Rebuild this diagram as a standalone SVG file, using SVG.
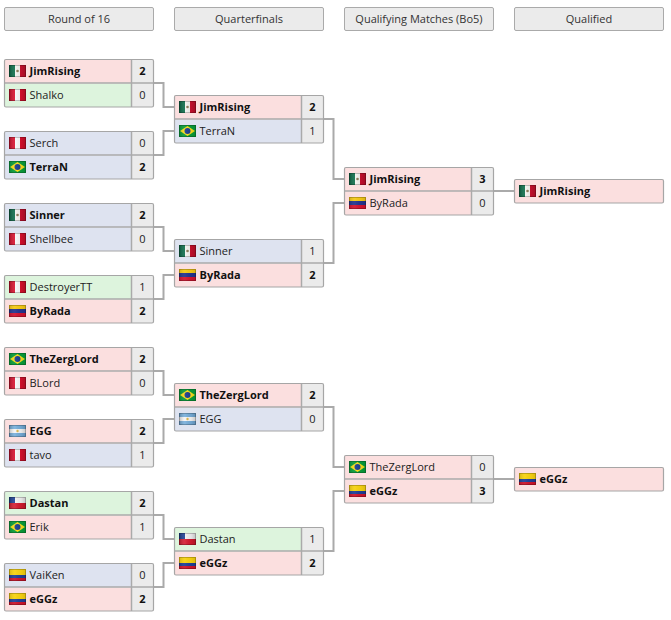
<svg xmlns="http://www.w3.org/2000/svg" width="671" height="620" viewBox="0 0 671 620">
<style>
text{font-family:"Open Sans","Noto Sans","Liberation Sans",sans-serif;font-size:11px;fill:#222}
.b{font-weight:700;fill:#111}
.h{text-anchor:middle;font-size:11px;fill:#333}
.s{text-anchor:middle}
.head{fill:#ebebeb;stroke:#aaa;stroke-width:1}
.p{fill:#fbdfdf}.g{fill:#ddf4dd}.u{fill:#dee3f0}
.c{fill:#ebebeb}
.o{fill:none;stroke:#a6a6a6;stroke-width:1.2}
.d{stroke:#aaa;stroke-width:1.5;fill:none}
.con{fill:none;stroke:#aaa;stroke-width:2}
.e{fill:none;stroke:#000;stroke-opacity:.22;stroke-width:1}
</style>
<defs>
<linearGradient id="sh" x1="0" y1="0" x2="1" y2="0"><stop offset="0" stop-color="#000" stop-opacity=".25"/><stop offset=".35" stop-color="#fff" stop-opacity=".1"/><stop offset=".7" stop-color="#000" stop-opacity=".05"/><stop offset="1" stop-color="#000" stop-opacity=".2"/></linearGradient>
<symbol id="mx" overflow="visible"><rect width="6" height="12" fill="#0a6b48"/><rect x="6" width="5" height="12" fill="#f4f4f0"/><rect x="11" width="6" height="12" fill="#c8102e"/><circle cx="8.5" cy="6" r="1.3" fill="#8a7a55"/><rect width="17" height="12" fill="url(#sh)"/><rect class="e" x=".5" y=".5" width="16" height="11"/></symbol>
<symbol id="pe" overflow="visible"><rect width="6" height="12" fill="#d80f2c"/><rect x="6" width="5" height="12" fill="#fafafa"/><rect x="11" width="6" height="12" fill="#d80f2c"/><rect width="17" height="12" fill="url(#sh)"/><rect class="e" x=".5" y=".5" width="16" height="11"/></symbol>
<symbol id="br" overflow="visible"><rect width="17" height="12" fill="#089c3a"/><path d="M8.5 1 16 6 8.5 11 1 6z" fill="#f7dc1a"/><circle cx="8.5" cy="6" r="3" fill="#1d3f8f"/><rect width="17" height="12" fill="url(#sh)" opacity=".6"/><rect class="e" x=".5" y=".5" width="16" height="11"/></symbol>
<symbol id="ve" overflow="visible"><rect width="17" height="4" fill="#f5c916"/><rect y="4" width="17" height="4" fill="#23348f"/><rect y="8" width="17" height="4" fill="#d3132f"/><rect width="17" height="12" fill="url(#sh)" opacity=".6"/><rect class="e" x=".5" y=".5" width="16" height="11"/></symbol>
<symbol id="co" overflow="visible"><rect width="17" height="6" fill="#f7d210"/><rect y="6" width="17" height="3" fill="#1f3f97"/><rect y="9" width="17" height="3" fill="#cf142b"/><rect width="17" height="12" fill="url(#sh)" opacity=".6"/><rect class="e" x=".5" y=".5" width="16" height="11"/></symbol>
<symbol id="ar" overflow="visible"><rect width="17" height="4" fill="#76aedb"/><rect y="4" width="17" height="4" fill="#f6f6f6"/><rect y="8" width="17" height="4" fill="#76aedb"/><circle cx="8.5" cy="6" r="1.2" fill="#e0b84a"/><rect width="17" height="12" fill="url(#sh)"/><rect class="e" x=".5" y=".5" width="16" height="11"/></symbol>
<symbol id="cl" overflow="visible"><rect width="17" height="6" fill="#f2f2f2"/><rect y="6" width="17" height="6" fill="#d5192e"/><rect width="6" height="6" fill="#1c3f94"/><rect width="17" height="12" fill="url(#sh)"/><rect class="e" x=".5" y=".5" width="16" height="11"/></symbol>
</defs>
<rect width="671" height="620" fill="#fff"/>
<g id="headers">
<g id="h1"><rect class="head" x="4.5" y="7.5" width="149" height="23" rx="1.5"/><text class="h" x="79" y="23">Round of 16</text></g>
<g id="h2"><rect class="head" x="174.5" y="7.5" width="149" height="23" rx="1.5"/><text class="h" x="249" y="23">Quarterfinals</text></g>
<g id="h3"><rect class="head" x="344.5" y="7.5" width="149" height="23" rx="1.5"/><text class="h" x="419" y="23">Qualifying Matches (Bo5)</text></g>
<g id="h4"><rect class="head" x="514.5" y="7.5" width="149" height="23" rx="1.5"/><text class="h" x="589" y="23">Qualified</text></g>
</g>
<g id="connectors">
<path class="con" d="M153 83H163.5V107H174"/>
<path class="con" d="M153 155H163.5V131H174"/>
<path class="con" d="M153 227H163.5V251H174"/>
<path class="con" d="M153 299H163.5V275H174"/>
<path class="con" d="M153 371H163.5V395H174"/>
<path class="con" d="M153 443H163.5V419H174"/>
<path class="con" d="M153 515H163.5V539H174"/>
<path class="con" d="M153 587H163.5V563H174"/>
<path class="con" d="M323 119H333.5V179H344"/>
<path class="con" d="M323 263H333.5V203H344"/>
<path class="con" d="M323 407H333.5V467H344"/>
<path class="con" d="M323 551H333.5V491H344"/>
<path class="con" d="M493 191H514"/>
<path class="con" d="M493 479H514"/>
</g>
<g id="m1" transform="translate(4.5 59.5)"><rect class="p" width="127" height="24"/><rect class="g" y="24" width="127" height="23.5"/><rect class="c" x="127" width="22" height="47.5"/><path class="d" d="M0 23.5H149M127 0V47.5"/><rect class="o" width="149" height="47.5" rx="1.5"/><use href="#mx" x="4.5" y="5.5"/><use href="#pe" x="4.5" y="29.5"/><text class="b" x="25" y="15.5">JimRising</text><text x="25" y="39.5">Shalko</text><text class="s b" x="138" y="15.5">2</text><text class="s" x="138" y="39.5">0</text></g>
<g id="m2" transform="translate(4.5 131.5)"><rect class="u" width="127" height="24"/><rect class="u" y="24" width="127" height="23.5"/><rect class="c" x="127" width="22" height="47.5"/><path class="d" d="M0 23.5H149M127 0V47.5"/><rect class="o" width="149" height="47.5" rx="1.5"/><use href="#pe" x="4.5" y="5.5"/><use href="#br" x="4.5" y="29.5"/><text x="25" y="15.5">Serch</text><text class="b" x="25" y="39.5">TerraN</text><text class="s" x="138" y="15.5">0</text><text class="s b" x="138" y="39.5">2</text></g>
<g id="m3" transform="translate(4.5 203.5)"><rect class="u" width="127" height="24"/><rect class="u" y="24" width="127" height="23.5"/><rect class="c" x="127" width="22" height="47.5"/><path class="d" d="M0 23.5H149M127 0V47.5"/><rect class="o" width="149" height="47.5" rx="1.5"/><use href="#mx" x="4.5" y="5.5"/><use href="#pe" x="4.5" y="29.5"/><text class="b" x="25" y="15.5">Sinner</text><text x="25" y="39.5">Shellbee</text><text class="s b" x="138" y="15.5">2</text><text class="s" x="138" y="39.5">0</text></g>
<g id="m4" transform="translate(4.5 275.5)"><rect class="g" width="127" height="24"/><rect class="p" y="24" width="127" height="23.5"/><rect class="c" x="127" width="22" height="47.5"/><path class="d" d="M0 23.5H149M127 0V47.5"/><rect class="o" width="149" height="47.5" rx="1.5"/><use href="#pe" x="4.5" y="5.5"/><use href="#ve" x="4.5" y="29.5"/><text x="25" y="15.5">DestroyerTT</text><text class="b" x="25" y="39.5">ByRada</text><text class="s" x="138" y="15.5">1</text><text class="s b" x="138" y="39.5">2</text></g>
<g id="m5" transform="translate(4.5 347.5)"><rect class="p" width="127" height="24"/><rect class="p" y="24" width="127" height="23.5"/><rect class="c" x="127" width="22" height="47.5"/><path class="d" d="M0 23.5H149M127 0V47.5"/><rect class="o" width="149" height="47.5" rx="1.5"/><use href="#br" x="4.5" y="5.5"/><use href="#pe" x="4.5" y="29.5"/><text class="b" x="25" y="15.5">TheZergLord</text><text x="25" y="39.5">BLord</text><text class="s b" x="138" y="15.5">2</text><text class="s" x="138" y="39.5">0</text></g>
<g id="m6" transform="translate(4.5 419.5)"><rect class="p" width="127" height="24"/><rect class="u" y="24" width="127" height="23.5"/><rect class="c" x="127" width="22" height="47.5"/><path class="d" d="M0 23.5H149M127 0V47.5"/><rect class="o" width="149" height="47.5" rx="1.5"/><use href="#ar" x="4.5" y="5.5"/><use href="#pe" x="4.5" y="29.5"/><text class="b" x="25" y="15.5">EGG</text><text x="25" y="39.5">tavo</text><text class="s b" x="138" y="15.5">2</text><text class="s" x="138" y="39.5">1</text></g>
<g id="m7" transform="translate(4.5 491.5)"><rect class="g" width="127" height="24"/><rect class="p" y="24" width="127" height="23.5"/><rect class="c" x="127" width="22" height="47.5"/><path class="d" d="M0 23.5H149M127 0V47.5"/><rect class="o" width="149" height="47.5" rx="1.5"/><use href="#cl" x="4.5" y="5.5"/><use href="#br" x="4.5" y="29.5"/><text class="b" x="25" y="15.5">Dastan</text><text x="25" y="39.5">Erik</text><text class="s b" x="138" y="15.5">2</text><text class="s" x="138" y="39.5">1</text></g>
<g id="m8" transform="translate(4.5 563.5)"><rect class="u" width="127" height="24"/><rect class="p" y="24" width="127" height="23.5"/><rect class="c" x="127" width="22" height="47.5"/><path class="d" d="M0 23.5H149M127 0V47.5"/><rect class="o" width="149" height="47.5" rx="1.5"/><use href="#co" x="4.5" y="5.5"/><use href="#co" x="4.5" y="29.5"/><text x="25" y="15.5">VaiKen</text><text class="b" x="25" y="39.5">eGGz</text><text class="s" x="138" y="15.5">0</text><text class="s b" x="138" y="39.5">2</text></g>
<g id="q1" transform="translate(174.5 95.5)"><rect class="p" width="127" height="24"/><rect class="u" y="24" width="127" height="23.5"/><rect class="c" x="127" width="22" height="47.5"/><path class="d" d="M0 23.5H149M127 0V47.5"/><rect class="o" width="149" height="47.5" rx="1.5"/><use href="#mx" x="4.5" y="5.5"/><use href="#br" x="4.5" y="29.5"/><text class="b" x="25" y="15.5">JimRising</text><text x="25" y="39.5">TerraN</text><text class="s b" x="138" y="15.5">2</text><text class="s" x="138" y="39.5">1</text></g>
<g id="q2" transform="translate(174.5 239.5)"><rect class="u" width="127" height="24"/><rect class="p" y="24" width="127" height="23.5"/><rect class="c" x="127" width="22" height="47.5"/><path class="d" d="M0 23.5H149M127 0V47.5"/><rect class="o" width="149" height="47.5" rx="1.5"/><use href="#mx" x="4.5" y="5.5"/><use href="#ve" x="4.5" y="29.5"/><text x="25" y="15.5">Sinner</text><text class="b" x="25" y="39.5">ByRada</text><text class="s" x="138" y="15.5">1</text><text class="s b" x="138" y="39.5">2</text></g>
<g id="q3" transform="translate(174.5 383.5)"><rect class="p" width="127" height="24"/><rect class="u" y="24" width="127" height="23.5"/><rect class="c" x="127" width="22" height="47.5"/><path class="d" d="M0 23.5H149M127 0V47.5"/><rect class="o" width="149" height="47.5" rx="1.5"/><use href="#br" x="4.5" y="5.5"/><use href="#ar" x="4.5" y="29.5"/><text class="b" x="25" y="15.5">TheZergLord</text><text x="25" y="39.5">EGG</text><text class="s b" x="138" y="15.5">2</text><text class="s" x="138" y="39.5">0</text></g>
<g id="q4" transform="translate(174.5 527.5)"><rect class="g" width="127" height="24"/><rect class="p" y="24" width="127" height="23.5"/><rect class="c" x="127" width="22" height="47.5"/><path class="d" d="M0 23.5H149M127 0V47.5"/><rect class="o" width="149" height="47.5" rx="1.5"/><use href="#cl" x="4.5" y="5.5"/><use href="#co" x="4.5" y="29.5"/><text x="25" y="15.5">Dastan</text><text class="b" x="25" y="39.5">eGGz</text><text class="s" x="138" y="15.5">1</text><text class="s b" x="138" y="39.5">2</text></g>
<g id="s1" transform="translate(344.5 167.5)"><rect class="p" width="127" height="24"/><rect class="p" y="24" width="127" height="23.5"/><rect class="c" x="127" width="22" height="47.5"/><path class="d" d="M0 23.5H149M127 0V47.5"/><rect class="o" width="149" height="47.5" rx="1.5"/><use href="#mx" x="4.5" y="5.5"/><use href="#ve" x="4.5" y="29.5"/><text class="b" x="25" y="15.5">JimRising</text><text x="25" y="39.5">ByRada</text><text class="s b" x="138" y="15.5">3</text><text class="s" x="138" y="39.5">0</text></g>
<g id="s2" transform="translate(344.5 455.5)"><rect class="p" width="127" height="24"/><rect class="p" y="24" width="127" height="23.5"/><rect class="c" x="127" width="22" height="47.5"/><path class="d" d="M0 23.5H149M127 0V47.5"/><rect class="o" width="149" height="47.5" rx="1.5"/><use href="#br" x="4.5" y="5.5"/><use href="#co" x="4.5" y="29.5"/><text x="25" y="15.5">TheZergLord</text><text class="b" x="25" y="39.5">eGGz</text><text class="s" x="138" y="15.5">0</text><text class="s b" x="138" y="39.5">3</text></g>
<g id="f1" transform="translate(514.5 179.5)"><rect class="p" width="149" height="23.5"/><rect class="o" width="149" height="23.5" rx="1.5"/><use href="#mx" x="4.5" y="5.5"/><text class="b" x="25" y="15.5">JimRising</text></g>
<g id="f2" transform="translate(514.5 467.5)"><rect class="p" width="149" height="23.5"/><rect class="o" width="149" height="23.5" rx="1.5"/><use href="#co" x="4.5" y="5.5"/><text class="b" x="25" y="15.5">eGGz</text></g>
</svg>
